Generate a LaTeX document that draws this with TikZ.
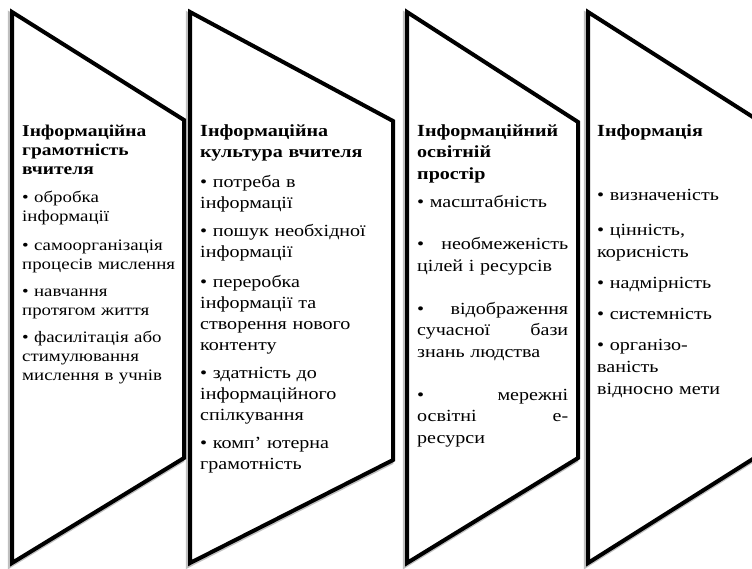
\documentclass[tikz,border=0pt]{standalone}
\usepackage{fontspec}
\setmainfont[FakeStretch=1.18]{Liberation Serif}
\newcommand\chevpath[4]{(#1,12) -- (#2,#3) -- (#2,#4) -- (#1,563) -- cycle}
\begin{document}
\begin{tikzpicture}[x=1pt,y=-1pt,
  chev/.style={draw=black,line width=4pt,fill=white,line join=miter},
  shad/.style={draw=black!25,line width=4.5pt,line join=miter},
  txt/.style={anchor=base west,inner sep=0pt,text width=#1,align=left},
  smallf/.style={font=\fontsize{16}{19}\selectfont},
  bigf/.style={font=\fontsize{17}{21}\selectfont},
  bigg/.style={font=\fontsize{17}{21.5}\selectfont}]
\useasboundingbox (0,0) rectangle (752,568);
% shadows
\draw[shad,shift={(-2,2.5)}] \chevpath{12}{184}{120}{458};
\draw[shad,shift={(-2,2.5)}] \chevpath{190}{393}{121}{460};
\draw[shad,shift={(-2,2.5)}] \chevpath{407}{578}{122}{458};
\draw[shad,shift={(-2,2.5)}] \chevpath{588}{756}{119}{457};
% shapes
\draw[chev] \chevpath{12}{184}{120}{458};
\draw[chev] \chevpath{190}{393}{121}{460};
\draw[chev] \chevpath{407}{578}{122}{458};
\draw[chev] \chevpath{588}{756}{119}{457};
% texts
\node[txt=160pt,smallf] (t1) at (22,136) {%
\textbf{\fontsize{16.5}{19}\selectfont Інформаційна}\\\textbf{\fontsize{16.5}{19}\selectfont грамотність}\\\textbf{\fontsize{16.5}{19}\selectfont вчителя}\\[9.5pt]
• обробка\\інформації\\[9.5pt]
• самоорганізація\\процесів мислення\\[8.5pt]
• навчання\\протягом життя\\[7.5pt]
• фасилітація або\\стимулювання\\мислення в учнів};
\node[txt=188pt,bigf] (t2) at (200,136) {%
\textbf{Інформаційна}\\\textbf{культура вчителя}\\[9pt]
• потреба в\\інформації\\[7pt]
• пошук необхідної\\інформації\\[9pt]
• переробка\\інформації та\\створення нового\\контенту\\[7pt]
• здатність до\\інформаційного\\спілкування\\[7.5pt]
• комп’ ютерна\\грамотність};
\node[txt=158pt,bigg] (t3) at (417,136) {%
\textbf{Інформаційний}\\\textbf{освітній}\\\textbf{простір}\\[6.5pt]
• масштабність\\[21pt]
\makebox[151pt][l]{•\hfill необмеженість}\\цілей і ресурсів\\[21.5pt]
\makebox[151pt][l]{•\hfill відображення}\\\makebox[151pt][l]{сучасної\hfill бази}\\знань людства\\[21.5pt]
\makebox[151pt][l]{•\hfill мережні}\\\makebox[151pt][l]{освітні\hfill е-}\\ресурси};
\node[txt=150pt,bigg] (t4) at (597,136) {%
\textbf{Інформація}\\[42.5pt]
• визначеність\\[14pt]
• цінність,\\корисність\\[10pt]
• надмірність\\[9.5pt]
• системність\\[9.5pt]
• організо-\\ваність\\[0.5pt]відносно мети};
\end{tikzpicture}
\end{document}
